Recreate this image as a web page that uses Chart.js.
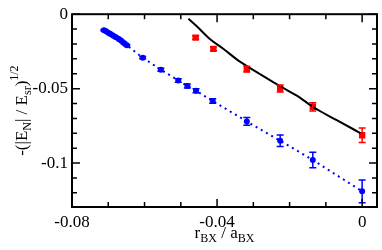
<!DOCTYPE html>
<html>
<head>
<meta charset="utf-8">
<script src="https://cdn.jsdelivr.net/npm/chart.js@4.4.0/dist/chart.umd.min.js"></script>
<style>
  html, body { margin: 0; padding: 0; background: #fff; }
  #wrap { width: 382px; height: 250px; }
</style>
</head>
<body>
<div id="wrap"><canvas id="chart"></canvas></div>
<script>
// blue series (dotted, circles)
const blueX   = [-0.0712, -0.0706, -0.0700, -0.0694, -0.0687, -0.0680, -0.0672, -0.0665, -0.0657, -0.0649,
                 -0.0605, -0.0555, -0.0507, -0.0482, -0.0458, -0.0412, -0.0318, -0.0226, -0.0136, 0];
const blueY   = [-0.0107, -0.0115, -0.0124, -0.0133, -0.0143, -0.0153, -0.0165, -0.0177, -0.0193, -0.0209,
                 -0.0292, -0.0373, -0.0445, -0.0482, -0.0514, -0.0583, -0.0720, -0.0850, -0.0979, -0.1190];
const blueErr = [0.0004, 0.0004, 0.0004, 0.0004, 0.0004, 0.0004, 0.0004, 0.0004, 0.0005, 0.0005,
                 0.0008, 0.0010, 0.0012, 0.0013, 0.0014, 0.0015, 0.0026, 0.0038, 0.0052, 0.0076];

// red series (squares, no line)
const redX   = [-0.0459, -0.0410, -0.0318, -0.0226, -0.0136, 0];
const redY   = [-0.0157, -0.0233, -0.0369, -0.0499, -0.0622, -0.0813];
const redErr = [0.0012, 0.0012, 0.0020, 0.0023, 0.0028, 0.0048];

// black fit curve
const fitX = [-0.0479, -0.0456, -0.0419, -0.0383, -0.0337, -0.0280, -0.0226, -0.0180, -0.0134, -0.0070, -0.0005];
const fitY = [-0.0031, -0.0081, -0.0168, -0.0232, -0.0319, -0.0405, -0.0484, -0.0547, -0.0625, -0.0712, -0.0798];

// axes
const xTicks = [-0.08, -0.07, -0.06, -0.05, -0.04, -0.03, -0.02, -0.01, 0];
const xTickLabels = ['-0.08', '', '', '', '-0.04', '', '', '', '0'];
const yTicks = [0, -0.01, -0.02, -0.03, -0.04, -0.05, -0.06, -0.07, -0.08, -0.09, -0.10, -0.11, -0.12];
const yTickLabels = ['0', '', '', '', '', '-0.05', '', '', '', '', '-0.1', '', ''];

const pts = (xs, ys) => xs.map((x, i) => ({ x: x, y: ys[i] }));
const FONT = '"Liberation Serif", "Times New Roman", serif';

// inward ticks on all four sides + frame
const frameTicks = {
  id: 'frameTicks',
  afterDraw(chart) {
    const { ctx, chartArea: a, scales: { x, y } } = chart;
    ctx.save();
    ctx.strokeStyle = '#000';
    ctx.lineWidth = 1.5;
    ctx.beginPath();
    xTicks.forEach((v, i) => {
      const px = x.getPixelForValue(v);
      const len = xTickLabels[i] ? 8 : 5;
      ctx.moveTo(px, a.bottom); ctx.lineTo(px, a.bottom - len);
      ctx.moveTo(px, a.top);    ctx.lineTo(px, a.top + len);
    });
    yTicks.forEach((v, i) => {
      const py = y.getPixelForValue(v);
      const len = yTickLabels[i] ? 8 : 5;
      ctx.moveTo(a.left, py);  ctx.lineTo(a.left + len, py);
      ctx.moveTo(a.right, py); ctx.lineTo(a.right - len, py);
    });
    ctx.stroke();
    ctx.lineWidth = 2;
    ctx.strokeRect(a.left, a.top, a.right - a.left, a.bottom - a.top);
    ctx.restore();
  }
};

// vertical error bars with caps
const errorBars = {
  id: 'errorBars',
  afterDatasetsDraw(chart) {
    const { ctx, scales: { x, y } } = chart;
    ctx.save();
    ctx.lineWidth = 1.5;
    chart.data.datasets.forEach(ds => {
      if (!ds.errors) return;
      ctx.strokeStyle = ds.borderColor;
      ctx.beginPath();
      ds.data.forEach((p, i) => {
        const px = x.getPixelForValue(p.x);
        const y1 = y.getPixelForValue(p.y + ds.errors[i]);
        const y2 = y.getPixelForValue(p.y - ds.errors[i]);
        ctx.moveTo(px, y1); ctx.lineTo(px, y2);
        ctx.moveTo(px - 3.5, y1); ctx.lineTo(px + 3.5, y1);
        ctx.moveTo(px - 3.5, y2); ctx.lineTo(px + 3.5, y2);
      });
      ctx.stroke();
    });
    ctx.restore();
  }
};

// axis titles with sub/superscripts
function drawRich(ctx, parts, cx, cy) {
  const big = '17px ' + FONT, small = '12px ' + FONT;
  let total = 0;
  parts.forEach(p => { ctx.font = p[1] === 'n' ? big : small; total += ctx.measureText(p[0]).width; });
  let xx = cx - total / 2;
  parts.forEach(p => {
    ctx.font = p[1] === 'n' ? big : small;
    const dy = p[1] === 'sub' ? 4 : p[1] === 'sup' ? -9 : 0;
    ctx.fillText(p[0], xx, cy + dy);
    xx += ctx.measureText(p[0]).width;
  });
}
const axisTitles = {
  id: 'axisTitles',
  afterDraw(chart) {
    const { ctx, chartArea: a } = chart;
    ctx.save();
    ctx.fillStyle = '#000';
    ctx.textBaseline = 'alphabetic';
    ctx.textAlign = 'left';
    drawRich(ctx, [['r', 'n'], ['BX', 'sub'], [' / a', 'n'], ['BX', 'sub']], (a.left + a.right) / 2, 238);
    ctx.translate(27, (a.top + a.bottom) / 2);
    ctx.rotate(-Math.PI / 2);
    drawRich(ctx, [['-(|E', 'n'], ['N', 'sub'], ['| / E', 'n'], ['sr', 'sub'], [')', 'n'], ['1/2', 'sup']], 0, 0);
    ctx.restore();
  }
};

new Chart(document.getElementById('chart'), {
  type: 'scatter',
  data: {
    datasets: [
      {
        type: 'line',
        data: pts(fitX, fitY),
        borderColor: '#000',
        borderWidth: 2,
        pointRadius: 0,
        cubicInterpolationMode: 'monotone',
        fill: false
      },
      {
        data: pts(blueX, blueY),
        errors: blueErr,
        showLine: true,
        borderColor: '#0000ff',
        backgroundColor: '#0000ff',
        borderWidth: 2,
        borderDash: [2, 4],
        pointStyle: 'circle',
        pointRadius: 3,
        pointBorderWidth: 0
      },
      {
        data: pts(redX, redY),
        errors: redErr,
        showLine: false,
        borderColor: '#ff0000',
        backgroundColor: '#ff0000',
        pointStyle: 'rect',
        pointRadius: 4.5,
        pointBorderWidth: 0
      }
    ]
  },
  options: {
    responsive: true,
    maintainAspectRatio: false,
    animation: false,
    layout: { padding: { left: 0, right: 5, top: 7, bottom: 0 } },
    plugins: { legend: { display: false }, tooltip: { enabled: false } },
    scales: {
      x: {
        type: 'linear',
        min: -0.08,
        max: 0.0041,
        afterBuildTicks: s => { s.ticks = xTicks.map(v => ({ value: v })); },
        afterFit: s => { s.height = 43; },
        grid: { display: false, drawTicks: false },
        border: { display: false },
        ticks: {
          autoSkip: false,
          maxRotation: 0,
          padding: 5,
          color: '#000',
          font: { family: FONT, size: 17 },
          callback: (v, i) => xTickLabels[i]
        }
      },
      y: {
        type: 'linear',
        min: -0.1295,
        max: 0,
        afterBuildTicks: s => { s.ticks = yTicks.map(v => ({ value: v })); },
        afterFit: s => { s.width = 72; },
        grid: { display: false, drawTicks: false },
        border: { display: false },
        ticks: {
          autoSkip: false,
          padding: 4,
          color: '#000',
          font: { family: FONT, size: 17 },
          callback: (v, i) => yTickLabels[i]
        }
      }
    }
  },
  plugins: [errorBars, frameTicks, axisTitles]
});
</script>
</body>
</html>
